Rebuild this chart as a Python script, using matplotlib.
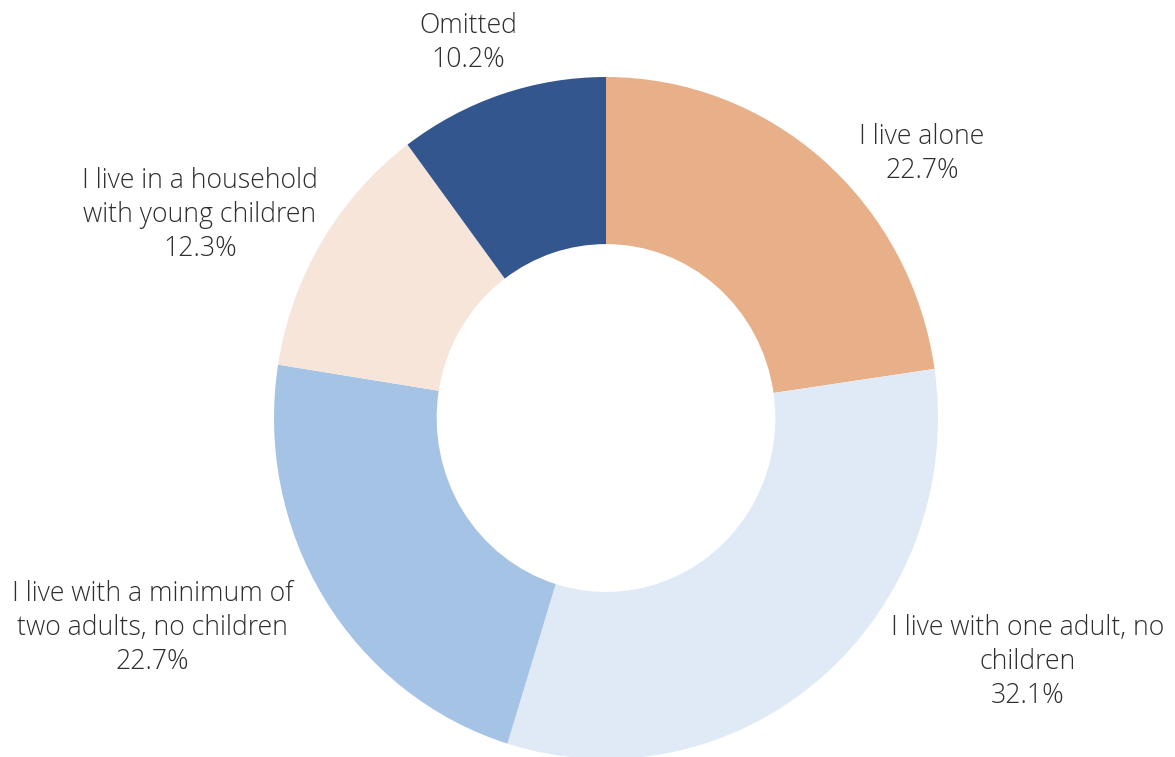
import numpy as np
import matplotlib.pyplot as plt

plt.rcParams['font.family'] = ['Open Sans', 'DejaVu Sans']

# household types, clockwise from the top
categories = ['I live alone',
              'I live with one adult, no\nchildren',
              'I live with a minimum of\ntwo adults, no children',
              'I live in a household\nwith young children',
              'Omitted']
shares = [22.7, 32.1, 22.7, 12.3, 10.2]
colors = ['#E8B088', '#DFEAF6', '#A5C3E5', '#F7E5DA', '#34568F']

# label centres (data units, ring radius = 1)
label_pos = [(0.952, 0.775), (1.271, -0.715), (-1.367, -0.615),
             (-1.223, 0.595), (-0.416, 1.10)]

fig = plt.figure(figsize=(11.75, 7.57), dpi=100)
ax = fig.add_axes([0, 0, 1, 1])

ax.pie(shares, colors=colors, startangle=90, counterclock=False,
       radius=1, wedgeprops=dict(width=0.49, linewidth=0))

for name, val, (x, y) in zip(categories, shares, label_pos):
    ax.text(x, y, '%s\n%.1f%%' % (name, val), ha='center', va='center',
            fontsize=19.2, fontweight='light', color='#2e2e2e',
            linespacing=1.28)

# ring is drawn slightly taller than wide in the original
ax.set_aspect('auto')
ax.set_xlim(-606 / 332, (1175 - 606) / 332)
ax.set_ylim(-(757 - 418) / 341, 418 / 341)
ax.axis('off')

fig.savefig('out.png', dpi=100)
